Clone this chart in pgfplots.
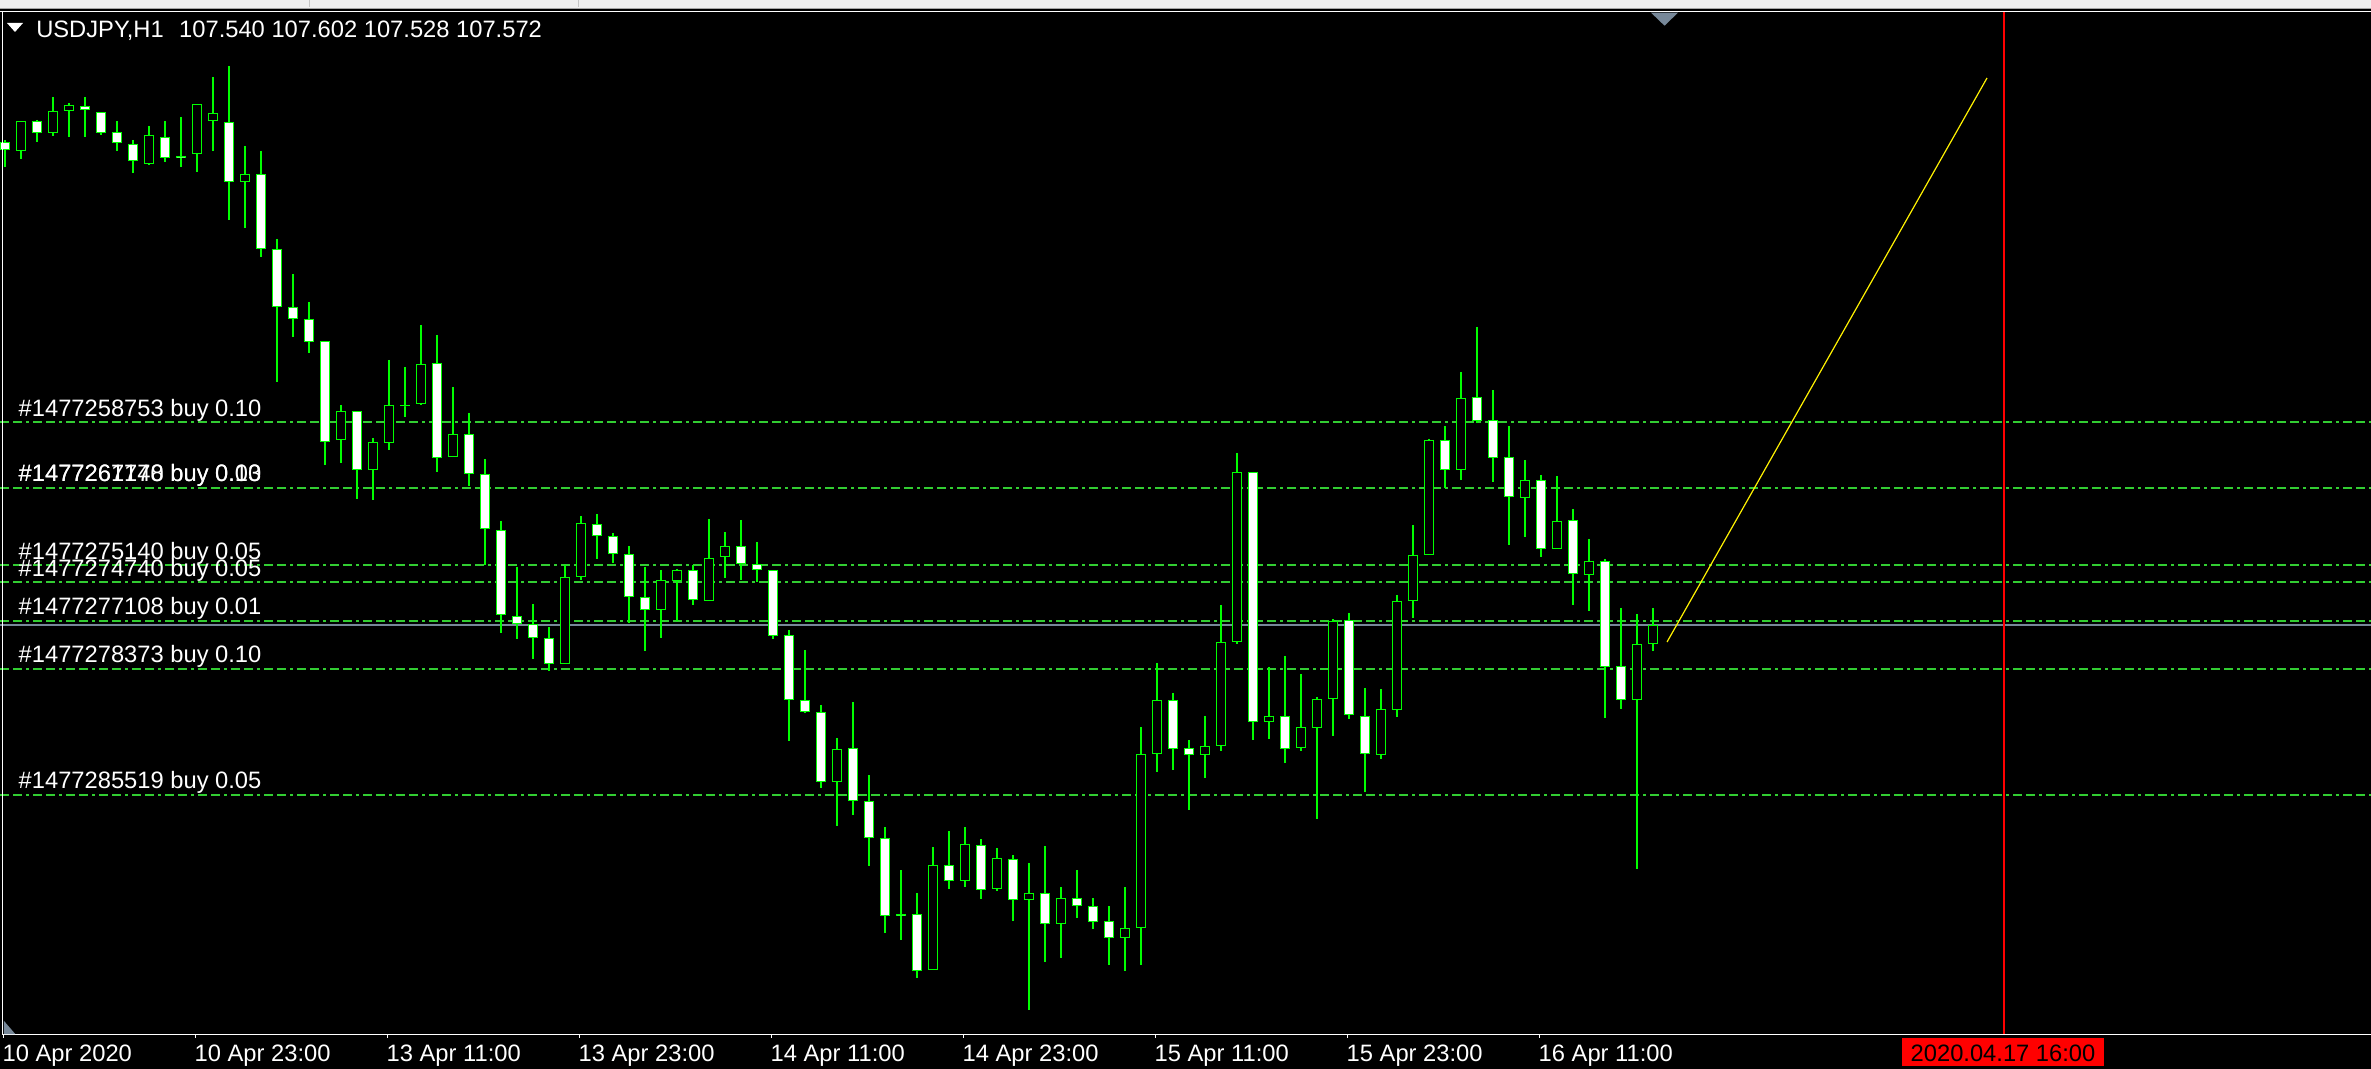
\documentclass[border=0pt]{standalone}
\usepackage{fontspec}
\setmainfont{Liberation Sans}
\usepackage{pgfplots}
\usepackage{pgfplotstable}
\pgfplotsset{compat=1.18}

\definecolor{mtgreen}{RGB}{0,255,0}
\definecolor{ordgreen}{RGB}{50,205,50}
\definecolor{bidgray}{RGB}{119,136,153}
\definecolor{bargray}{RGB}{240,240,240}
\newcommand\lab{\fontsize{6.75}{8}\selectfont}
\tikzset{ord/.style={ordgreen, line width=0.012cm,
  dash pattern=on 0.09cm off 0.04cm on 0.09cm off 0.04cm on 0.03cm off 0.04cm}}

% bar index, open, high, low, close (price in screen rows, top = 0)
\pgfplotstableread{
i o h l c
1 151 121 159 121
3 133 97 136 111
4 111 103 137 105
9 164 126 165 135
12 154 104 172 104
13 121 77 151 113
15 182 146 228 174
21 440 405 463 411
23 470 438 500 442
24 443 360 450 405
25 405 367 417 405
26 404 325 405 364
28 457 387 457 434
35 664 565 664 577
36 577 516 580 523
41 610 570 638 580
42 581 569 621 570
44 601 519 601 558
45 557 532 578 546
52 782 738 826 749
58 970 847 970 865
60 881 827 887 844
62 889 848 891 858
64 900 863 1010 893
66 924 887 958 898
70 938 887 971 928
71 928 727 965 754
72 754 663 772 700
75 755 716 778 746
76 746 605 751 642
77 642 453 644 472
79 722 667 739 716
81 748 674 751 727
82 728 697 819 699
83 699 619 736 621
86 755 689 759 709
87 710 595 717 601
88 601 525 618 555
89 555 439 555 440
91 470 372 480 398
95 498 460 537 480
97 549 476 549 521
99 575 539 611 561
102 700 614 869 644
103 644 608 651 625
}\bull

\pgfplotstableread{
i o h l c
0 142 140 167 150
2 121 120 142 133
5 106 97 137 110
6 112 112 135 133
7 132 121 151 143
8 144 140 173 161
10 137 121 162 158
11 156 117 167 158
14 122 66 220 182
16 174 151 257 249
17 249 239 382 307
18 307 274 337 319
19 319 302 353 342
20 341 341 465 442
22 411 411 499 470
27 363 335 472 458
29 434 413 486 474
30 474 459 565 529
31 530 521 633 615
32 616 567 639 624
33 624 604 659 638
34 638 627 671 664
37 524 514 559 536
38 536 533 563 554
39 554 546 623 597
40 597 567 651 610
43 570 565 605 600
46 546 520 580 564
47 564 542 582 570
48 570 570 639 636
49 635 630 741 700
50 700 650 713 712
51 712 705 788 782
53 748 702 815 801
54 801 775 866 838
55 838 827 933 916
56 914 870 940 916
57 914 893 978 971
59 865 831 889 881
61 845 839 899 890
63 859 855 921 900
65 893 846 962 924
67 898 870 918 906
68 906 898 929 922
69 921 906 965 938
73 700 693 770 749
74 748 740 810 755
78 472 472 740 722
80 716 656 763 749
84 620 613 719 715
85 716 688 792 754
90 440 426 488 470
92 397 327 423 421
93 420 390 482 458
94 457 426 545 497
96 480 475 557 549
98 520 509 605 574
100 561 559 718 667
101 666 608 709 700
}\bear

% time-axis tick marks: position, top row, length
\pgfplotstableread{
x y e
-0.1 1034 4
11.9 1034 4
23.9 1034 4
35.9 1034 4
47.9 1034 4
59.9 1034 4
71.9 1034 4
83.9 1034 4
95.9 1034 4
}\ticks

\pgfplotsset{
  vbar/.style 2 args={draw=none, mark=none, forget plot,
    error bars/.cd, y dir=plus, y explicit, error mark=none,
    error bar style={draw=#1, solid, line width=#2}},
}

\begin{document}
\begin{tikzpicture}
\begin{axis}[
  width=23.71cm, height=10.69cm, scale only axis,
  xmin=-0.3125, xmax=147.875, ymin=0, ymax=1069, y dir=reverse,
  axis background/.style={fill=black},
  axis line style={draw=none},
  ytick=\empty,
  xtick={0,12,24,36,48,60,72,84,96},
  xticklabels={10 Apr 2020,10 Apr 23:00,13 Apr 11:00,13 Apr 23:00,14 Apr 11:00,14 Apr 23:00,15 Apr 11:00,15 Apr 23:00,16 Apr 11:00},
  major tick length=0, tick style={draw=none},
  xticklabel style={font=\lab, text=white, anchor=base west, inner sep=0pt,
    yshift=0.073cm, xshift=-0.03cm},
]
% order levels and bid line
\addplot[ord] coordinates {(-0.3,422) (148,422)};
\addplot[ord, line width=0.022cm] coordinates {(-0.3,488) (148,488)};
\addplot[ord] coordinates {(-0.3,565) (148,565)};
\addplot[ord] coordinates {(-0.3,582) (148,582)};
\addplot[ord] coordinates {(-0.3,621) (148,621)};
\addplot[ord] coordinates {(-0.3,669) (148,669)};
\addplot[ord] coordinates {(-0.3,795) (148,795)};
\addplot[bidgray, line width=0.013cm] coordinates {(-0.3,625) (148,625)};

% candles: wicks, body outlines, body fills
\addplot[vbar={mtgreen}{0.012cm}] table[x=i, y=h, y error expr=\thisrow{l}-\thisrow{h}] {\bull};
\addplot[vbar={mtgreen}{0.012cm}] table[x=i, y=h, y error expr=\thisrow{l}-\thisrow{h}] {\bear};
\addplot[vbar={mtgreen}{0.105cm}] table[x=i, y expr={min(\thisrow{o},\thisrow{c})-0.2},
  y error expr={max(abs(\thisrow{o}-\thisrow{c})+0.4,1.6)}] {\bull};
\addplot[vbar={mtgreen}{0.105cm}] table[x=i, y expr={min(\thisrow{o},\thisrow{c})-0.2},
  y error expr={max(abs(\thisrow{o}-\thisrow{c})+0.4,1.6)}] {\bear};
\addplot[vbar={black}{0.075cm}] table[x=i, y expr={min(\thisrow{o},\thisrow{c})+1.3},
  y error expr={max(abs(\thisrow{o}-\thisrow{c})-2.6,0.01)}] {\bull};
\addplot[vbar={white}{0.075cm}] table[x=i, y expr={min(\thisrow{o},\thisrow{c})+1.3},
  y error expr={max(abs(\thisrow{o}-\thisrow{c})-2.6,0.01)}] {\bear};

% trend line and time line
\addplot[yellow, line width=0.012cm] coordinates {(103.875,642) (123.875,78)};
\addplot[red, line width=0.014cm] coordinates {(124.94,12) (124.94,1034)};

% window frame
\fill[bargray] (axis cs:-1,0) rectangle (axis cs:149,8.4);
\fill[gray!70] (axis cs:-1,8.4) rectangle (axis cs:149,9.4);
\fill[white] (axis cs:-1,11) rectangle (axis cs:149,12.3);
\fill[gray!45] (axis cs:18.97,0) rectangle (axis cs:19.03,7.5);
\fill[gray!45] (axis cs:35.8,0) rectangle (axis cs:35.86,7.5);
\fill[white] (axis cs:-0.1875,11) rectangle (axis cs:-0.1125,1034.8);
\fill[white] (axis cs:-0.1875,1033.5) rectangle (axis cs:149,1034.8);
\addplot[vbar={white}{0.011cm}] table[x=x, y=y, y error=e] {\ticks};
\fill[bidgray] (axis cs:102.875,12.7) -- (axis cs:104.5625,12.7) -- (axis cs:103.72,25.7) -- cycle;
\fill[bidgray] (axis cs:-0.075,1020.7) -- (axis cs:-0.075,1034) -- (axis cs:0.64,1034) -- cycle;

% header
\fill[white] (axis cs:0.125,23) -- (axis cs:1.125,23) -- (axis cs:0.625,32) -- cycle;
\node[anchor=base west, inner sep=0pt, text=white, font=\lab] at (axis cs:1.91,37.5)
  {USDJPY,H1\hspace{0.155cm}107.540 107.602 107.528 107.572};

% order labels
\tikzset{olab/.style={anchor=base west, inner sep=0pt, text=white, font=\lab}}
\node[olab] at (axis cs:0.8125,417) {\#1477258753 buy 0.10};
\node[olab] at (axis cs:0.8125,482) {\#1477261740 buy 0.10};
\node[olab] at (axis cs:0.8125,482) {\#1477267178 buy 0.03};
\node[olab] at (axis cs:0.8125,560) {\#1477275140 buy 0.05};
\node[olab] at (axis cs:0.8125,577) {\#1477274740 buy 0.05};
\node[olab] at (axis cs:0.8125,615) {\#1477277108 buy 0.01};
\node[olab] at (axis cs:0.8125,663) {\#1477278373 buy 0.10};
\node[olab] at (axis cs:0.8125,789) {\#1477285519 buy 0.05};

% current time marker
\fill[red] (axis cs:118.5625,1037.7) rectangle (axis cs:131.1875,1065.7);
\node[anchor=base, inner sep=0pt, text=black, font=\lab] at (axis cs:124.875,1061.7) {2020.04.17 16:00};
\end{axis}
\end{tikzpicture}
\end{document}
